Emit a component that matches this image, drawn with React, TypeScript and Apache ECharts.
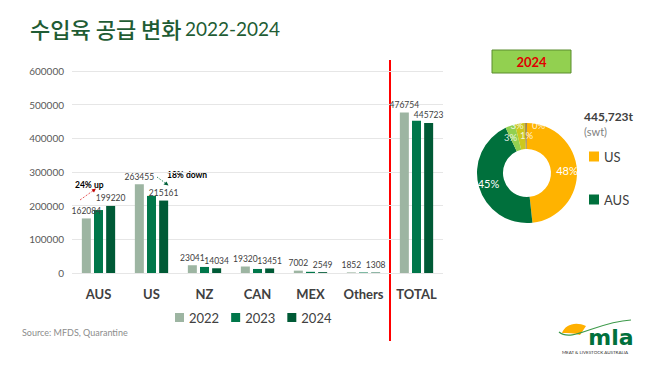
import React, { useEffect, useRef } from "react";
import * as echarts from "echarts";

const categories = ["AUS", "US", "NZ", "CAN", "MEX", "Others", "TOTAL"];
const years = ["2022", "2023", "2024"];
const values2022 = [162084, 263455, 23041, 19320, 7002, 1852, 476754];
const values2023 = [187000, 229000, 18000, 12000, 3500, 1500, 452000];
const values2024 = [199220, 215161, 14034, 13451, 2549, 1308, 445723];
const pieNames = ["US", "AUS", "NZ", "CAN", "MEX", "Others"];
const pieValues = [215161, 199220, 14034, 13451, 2549, 1308];
const yTicks = { min: 0, max: 600000, interval: 100000 };

const barColors = ["#9db5a2", "#00774a", "#005a36"];
const pieColors = ["#ffb300", "#00703c", "#92d050", "#ccc81e", "#b59a2e", "#8a7650"];
const pieLabelOffsets = [[0, 0], [0, 0], [-3, 2], [-4, -8], [1, 2], [12, -8]];

echarts.graphic.registerShape(
  "mlaDome",
  echarts.graphic.extendPath("M0,10 C3,2 13,-2 24,3 L18,12 C12,10 6,10 0,10 Z", {})
);

export default function App() {
  const ref = useRef<HTMLDivElement>(null);
  useEffect(() => {
    if (!ref.current) return;
    const chart = echarts.init(ref.current, undefined, { renderer: "svg" });
    const font = "Lato, 'Noto Sans', sans-serif";
    const total = pieValues.reduce((a, b) => a + b, 0);
    const barLabel = {
      show: true,
      position: "top",
      distance: 3,
      fontSize: 8.5,
      color: "#404040",
      fontFamily: font,
    };
    const option: any = {
      animation: false,
      textStyle: { fontFamily: font },
      grid: { left: 72, right: 215, top: 71, bottom: 93 },
      legend: [
        {
          data: years,
          left: 170,
          top: 306,
          icon: "rect",
          itemWidth: 9,
          itemHeight: 9,
          itemGap: 12,
          textStyle: { fontSize: 13, color: "#404040", fontFamily: font },
        },
        {
          data: ["US", "AUS"],
          orient: "vertical",
          left: 584,
          top: 145,
          icon: "rect",
          itemWidth: 10,
          itemHeight: 10,
          itemGap: 30,
          textStyle: { fontSize: 13, color: "#404040", fontFamily: font },
        },
      ],
      xAxis: {
        type: "category",
        data: categories,
        axisLine: { show: false },
        axisTick: { show: false },
        axisLabel: {
          fontSize: 13,
          fontWeight: "bold",
          color: "#404040",
          margin: 14,
          fontFamily: font,
        },
      },
      yAxis: {
        type: "value",
        ...yTicks,
        axisLabel: {
          fontSize: 10,
          color: "#595959",
          margin: 8,
          fontFamily: font,
          formatter: (v: number) => String(v),
        },
        splitLine: { lineStyle: { color: "#e6e6e6" } },
      },
      series: [
        {
          name: "2022",
          type: "bar",
          data: values2022,
          barWidth: 9,
          barGap: "35%",
          itemStyle: { color: barColors[0] },
          label: barLabel,
        },
        {
          name: "2023",
          type: "bar",
          data: values2023,
          barWidth: 9,
          barGap: "35%",
          itemStyle: { color: barColors[1] },
        },
        {
          name: "2024",
          type: "bar",
          data: values2024,
          barWidth: 9,
          barGap: "35%",
          itemStyle: { color: barColors[2] },
          label: barLabel,
        },
        {
          type: "pie",
          center: [527, 173],
          radius: [24, 50],
          startAngle: 90,
          clockwise: true,
          avoidLabelOverlap: false,
          labelLayout: { hideOverlap: false },
          data: pieNames.map((n, i) => ({
            name: n,
            value: pieValues[i],
            itemStyle: { color: pieColors[i] },
            label: i >= 2 ? { offset: pieLabelOffsets[i], fontSize: 9.5, color: "rgba(255,255,255,0.85)" } : undefined,
          })),
          label: {
            show: true,
            position: "inside",
            color: "#ffffff",
            fontSize: 11,
            fontFamily: font,
            formatter: (p: any) => Math.round((p.value / total) * 100) + "%",
          },
          labelLine: { show: false },
          itemStyle: { borderWidth: 0 },
        },
      ],
      graphic: [
        {
          type: "text",
          left: 30,
          top: 17,
          style: {
            text: "{k|수입육 공급 변화} {n|2022-2024}",
            rich: {
              k: {
                fontSize: 22,
                fontWeight: 500,
                fontFamily: "'Noto Sans CJK KR', sans-serif",
                fill: "#1f5c34",
              },
              n: { fontSize: 19, fontFamily: font, fill: "#1f5c34" },
            },
          },
        },
        {
          type: "line",
          shape: { x1: 390, y1: 60, x2: 390, y2: 341 },
          style: { stroke: "#ff0000", lineWidth: 2 },
        },
        {
          type: "rect",
          shape: { x: 492, y: 50, width: 79, height: 23 },
          style: { fill: "#92d050", stroke: "#5b8c2f", lineWidth: 1 },
        },
        {
          type: "text",
          x: 531.5,
          y: 61.5,
          style: {
            text: "2024",
            fill: "#e00000",
            fontSize: 13,
            fontWeight: "bold",
            fontFamily: font,
            align: "center",
            verticalAlign: "middle",
          },
        },
        {
          type: "text",
          x: 584,
          y: 116,
          style: {
            text: "445,723t",
            fill: "#404040",
            fontSize: 12,
            fontWeight: "bold",
            fontFamily: font,
            verticalAlign: "middle",
          },
        },
        {
          type: "text",
          x: 584,
          y: 131,
          style: {
            text: "(swt)",
            fill: "#7f7f7f",
            fontSize: 11,
            fontFamily: font,
            verticalAlign: "middle",
          },
        },
        {
          type: "text",
          x: 75,
          y: 185,
          style: {
            text: "24% up",
            fill: "#000000",
            fontSize: 8.5,
            fontWeight: "bold",
            fontFamily: font,
            verticalAlign: "middle",
          },
        },
        {
          type: "line",
          shape: { x1: 80, y1: 200, x2: 94, y2: 190 },
          style: { stroke: "#e03030", lineWidth: 0.8, lineDash: [2, 1.5] },
        },
        {
          type: "polygon",
          shape: { points: [[96, 188.5], [91.5, 189.5], [94, 192.5]] },
          style: { fill: "#c00000" },
        },
        {
          type: "text",
          x: 167,
          y: 175,
          style: {
            text: "18% down",
            fill: "#000000",
            fontSize: 8.5,
            fontWeight: "bold",
            fontFamily: font,
            verticalAlign: "middle",
          },
        },
        {
          type: "line",
          shape: { x1: 157, y1: 177, x2: 166, y2: 183.5 },
          style: { stroke: "#00703c", lineWidth: 0.8, lineDash: [1.5, 1.5] },
        },
        {
          type: "polygon",
          shape: { points: [[168.5, 185.5], [163.5, 184.5], [166.5, 181.5]] },
          style: { fill: "#00603a" },
        },
        {
          type: "text",
          x: 22,
          y: 332,
          style: {
            text: "Source: MFDS, Quarantine",
            fill: "#8c8c8c",
            fontSize: 9,
            fontFamily: font,
            verticalAlign: "middle",
          },
        },
        {
          type: "mlaDome",
          x: 562,
          y: 323,
          style: { fill: "#ffb000" },
        },
        {
          type: "bezierCurve",
          shape: { x1: 559, y1: 332, cpx1: 572, cpy1: 343, cpx2: 596, cpy2: 322, x2: 631, y2: 320 },
          style: { stroke: "#3d9a4a", lineWidth: 1.2, fill: null },
        },
        {
          type: "text",
          x: 611,
          y: 348,
          style: {
            text: "mla",
            fill: "#00703c",
            fontSize: 22,
            fontWeight: "bold",
            fontFamily: "'DejaVu Sans', sans-serif",
            align: "center",
            verticalAlign: "bottom",
          },
        },
        {
          type: "text",
          x: 595,
          y: 352,
          style: {
            text: "MEAT & LIVESTOCK AUSTRALIA",
            fill: "#333333",
            fontSize: 4.5,
            fontFamily: font,
            align: "center",
            verticalAlign: "middle",
          },
        },
      ],
    };
    chart.setOption(option);
    return () => chart.dispose();
  }, []);
  return <div ref={ref} style={{ width: 658, height: 366, position: "absolute", left: 0, top: 0 }} />;
}
